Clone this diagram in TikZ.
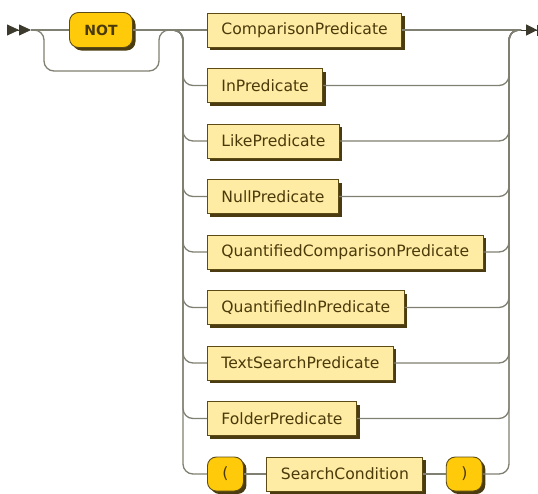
\documentclass[tikz,border=0pt]{standalone}
\usepackage{fontspec}
\setmainfont{DejaVu Sans}
\usetikzlibrary{positioning,shadows,arrows.meta}
\definecolor{ntfill}{HTML}{FEEBA4}
\definecolor{tfill}{HTML}{FFCA0A}
\definecolor{boxline}{HTML}{5C4B14}
\definecolor{boxshade}{HTML}{4A3C10}
\definecolor{railcol}{HTML}{7F7F72}
\definecolor{txtcol}{HTML}{4A3A0A}
\definecolor{markcol}{HTML}{3B3A2C}
\tikzset{
  nt/.style={draw=boxline, line width=0.9pt, fill=ntfill, minimum height=34pt, inner xsep=14pt, inner ysep=0pt,
    font=\fontsize{15.6}{18}\selectfont, text=txtcol,
    drop shadow={shadow xshift=3pt, shadow yshift=-3pt, fill=boxshade, opacity=1}},
  term/.style={nt, fill=tfill, rounded corners=9pt, minimum width=36pt, inner xsep=4pt},
  rail/.style={draw=railcol, line width=1.3pt, rounded corners=10pt},
  tipmark/.style={draw=markcol, fill=markcol, line width=0.8pt}
}

\begin{document}
\begin{tikzpicture}[x=1pt, y=1pt]
  \useasboundingbox (0,0) rectangle (538,-493);

  \node[term, font=\bfseries\fontsize{14}{17}\selectfont, minimum width=63pt, minimum height=35pt] (not) at (101,-30) {NOT};
  \node[nt, anchor=west] (cmp) at (207,-30) {ComparisonPredicate};
  \node[nt, below=20.6pt of cmp.south west, anchor=north west] (inp) {InPredicate};
  \node[nt, below=20.6pt of inp.south west, anchor=north west] (like) {LikePredicate};
  \node[nt, below=20.6pt of like.south west, anchor=north west] (null) {NullPredicate};
  \node[nt, below=20.6pt of null.south west, anchor=north west] (qcmp) {QuantifiedComparisonPredicate};
  \node[nt, below=20.6pt of qcmp.south west, anchor=north west] (qin) {QuantifiedInPredicate};
  \node[nt, below=20.6pt of qin.south west, anchor=north west] (txt) {TextSearchPredicate};
  \node[nt, below=20.6pt of txt.south west, anchor=north west] (fld) {FolderPredicate};
  \node[term, below=20.6pt of fld.south west, anchor=north west] (lp) {(};
  \node[nt, right=22.5pt of lp] (sc) {SearchCondition};
  \node[term, right=22.5pt of sc] (rp) {)};

  \coordinate (begin) at (7,-30);
  \coordinate (st) at (31,-30);
  \coordinate (skip1) at (44,-30);
  \coordinate (skip2) at (44,-71);
  \coordinate (skip3) at (159,-71);
  \coordinate (skip4) at (159,-30);
  \coordinate (split) at (183,-30);
  \coordinate (merge) at (509,-30);
  \coordinate (fin) at (521,-30);
  \coordinate (fin2) at (538,-30);

  % main line and the way round NOT
  \draw[rail] (st) -- (not) -- (cmp) -- (fin);
  \draw[rail] (st) -- (skip1) -- (skip2) -- (skip3) -- (skip4) -- (split);

  % choices
  \foreach \n in {inp,like,null,qcmp,qin,txt,fld,lp}
    \draw[rail] (skip4) -- (split) -- (split |- \n) -- (\n);
  \foreach \n in {inp,like,null,qcmp,qin,txt,fld,rp}
    \draw[rail] (\n) -- (merge |- \n) -- (merge) -- (fin);
  \draw[rail] (lp) -- (sc);
  \draw[rail] (sc) -- (rp);

  % start and end marks
  \draw[tipmark, -{Triangle[length=12pt,width=11pt]Triangle[length=12pt,width=11pt]}] (begin) -- (st);
  \draw[tipmark, -{Triangle[length=11pt,width=11pt]Bar[width=11pt]}] (fin) -- (fin2);
\end{tikzpicture}
\end{document}
